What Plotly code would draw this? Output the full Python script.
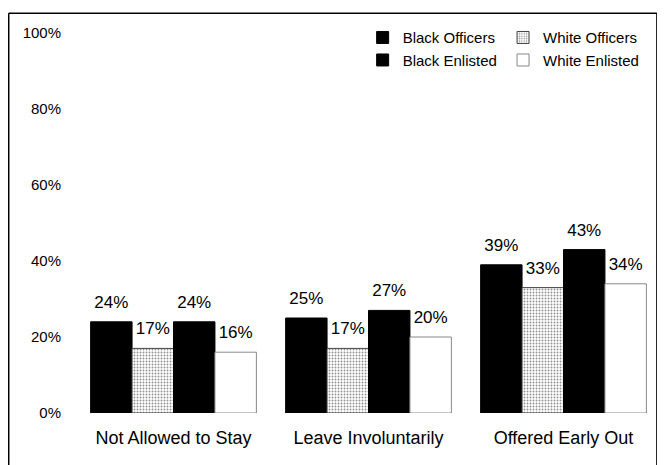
import plotly.graph_objects as go

categorias = ["Not Allowed to Stay", "Leave Involuntarily", "Offered Early Out"]
black_officers = [24, 25, 39]
white_officers = [17, 17, 33]
black_enlisted = [24, 27, 43]
white_enlisted = [16, 20, 34]
y_ticks = [0, 20, 40, 60, 80, 100]
y_labels = ["0%", "20%", "40%", "60%", "80%", "100%"]

FONTE = "Liberation Sans, Arial, sans-serif"

# (nome, valores, marcador, legenda)
series = [
    ("Black Officers", black_officers, dict(color="black", line=dict(color="black", width=1)), "legend"),
    ("White Officers", white_officers, dict(color="white", line=dict(color="#444444", width=1),
                                            pattern=dict(shape=".", fgcolor="#222222", bgcolor="white",
                                                         size=3, solidity=0.3)), "legend2"),
    ("Black Enlisted", black_enlisted, dict(color="black", line=dict(color="black", width=1)), "legend"),
    ("White Enlisted", white_enlisted, dict(color="white", line=dict(color="#888888", width=1)), "legend2"),
]

fig = go.Figure()
for nome, vals, marker, leg in series:
    fig.add_trace(go.Bar(x=categorias, y=vals, name=nome, marker=marker, legend=leg,
                         alignmentgroup="barras", offsetgroup=nome))

# rótulos de valor acima das barras
for nome, vals, _, _ in series:
    fig.add_trace(go.Scatter(x=categorias, y=vals, mode="markers+text",
                             text=[f"{v}%" for v in vals], textposition="top center",
                             textfont=dict(family=FONTE, size=17, color="black"),
                             marker=dict(size=14, color="rgba(0,0,0,0)"),
                             alignmentgroup="rotulos", offsetgroup=nome,
                             showlegend=False, hoverinfo="skip", cliponaxis=False))

leg_base = dict(orientation="v", xanchor="left", y=1.031, yanchor="top",
                font=dict(size=15, color="black", family=FONTE),
                bgcolor="rgba(0,0,0,0)", itemwidth=30, tracegroupgap=0)

fig.update_layout(
    width=657, height=457,
    margin=dict(l=68, r=4, t=25, b=52),
    paper_bgcolor="white", plot_bgcolor="white",
    barmode="group", bargap=0.15, bargroupgap=0,
    scattermode="group", scattergap=0.15,
    font=dict(family=FONTE, color="black"),
    xaxis=dict(showline=False, showgrid=False, ticks="", ticklabelstandoff=12,
               tickfont=dict(size=18, color="black")),
    yaxis=dict(range=[0, 100], tickvals=y_ticks, ticktext=y_labels,
               showgrid=False, showline=False, zeroline=False, ticks="",
               ticklabelstandoff=14, tickfont=dict(size=15, color="black")),
    legend=dict(leg_base, x=0.49),
    legend2=dict(leg_base, x=0.73),
    showlegend=True,
)

# moldura em volta do gráfico
xe, xd, yt, yb = -0.115, 0.993, 1.052, -0.14
for x0, y0, x1, y1 in [(xe, yt, xd, yt), (xe, yt, xe, yb), (xd, yt, xd, yb)]:
    fig.add_shape(type="line", xref="paper", yref="paper", x0=x0, y0=y0, x1=x1, y1=y1,
                  line=dict(color="black", width=1.5))

fig.write_html("out.html")
